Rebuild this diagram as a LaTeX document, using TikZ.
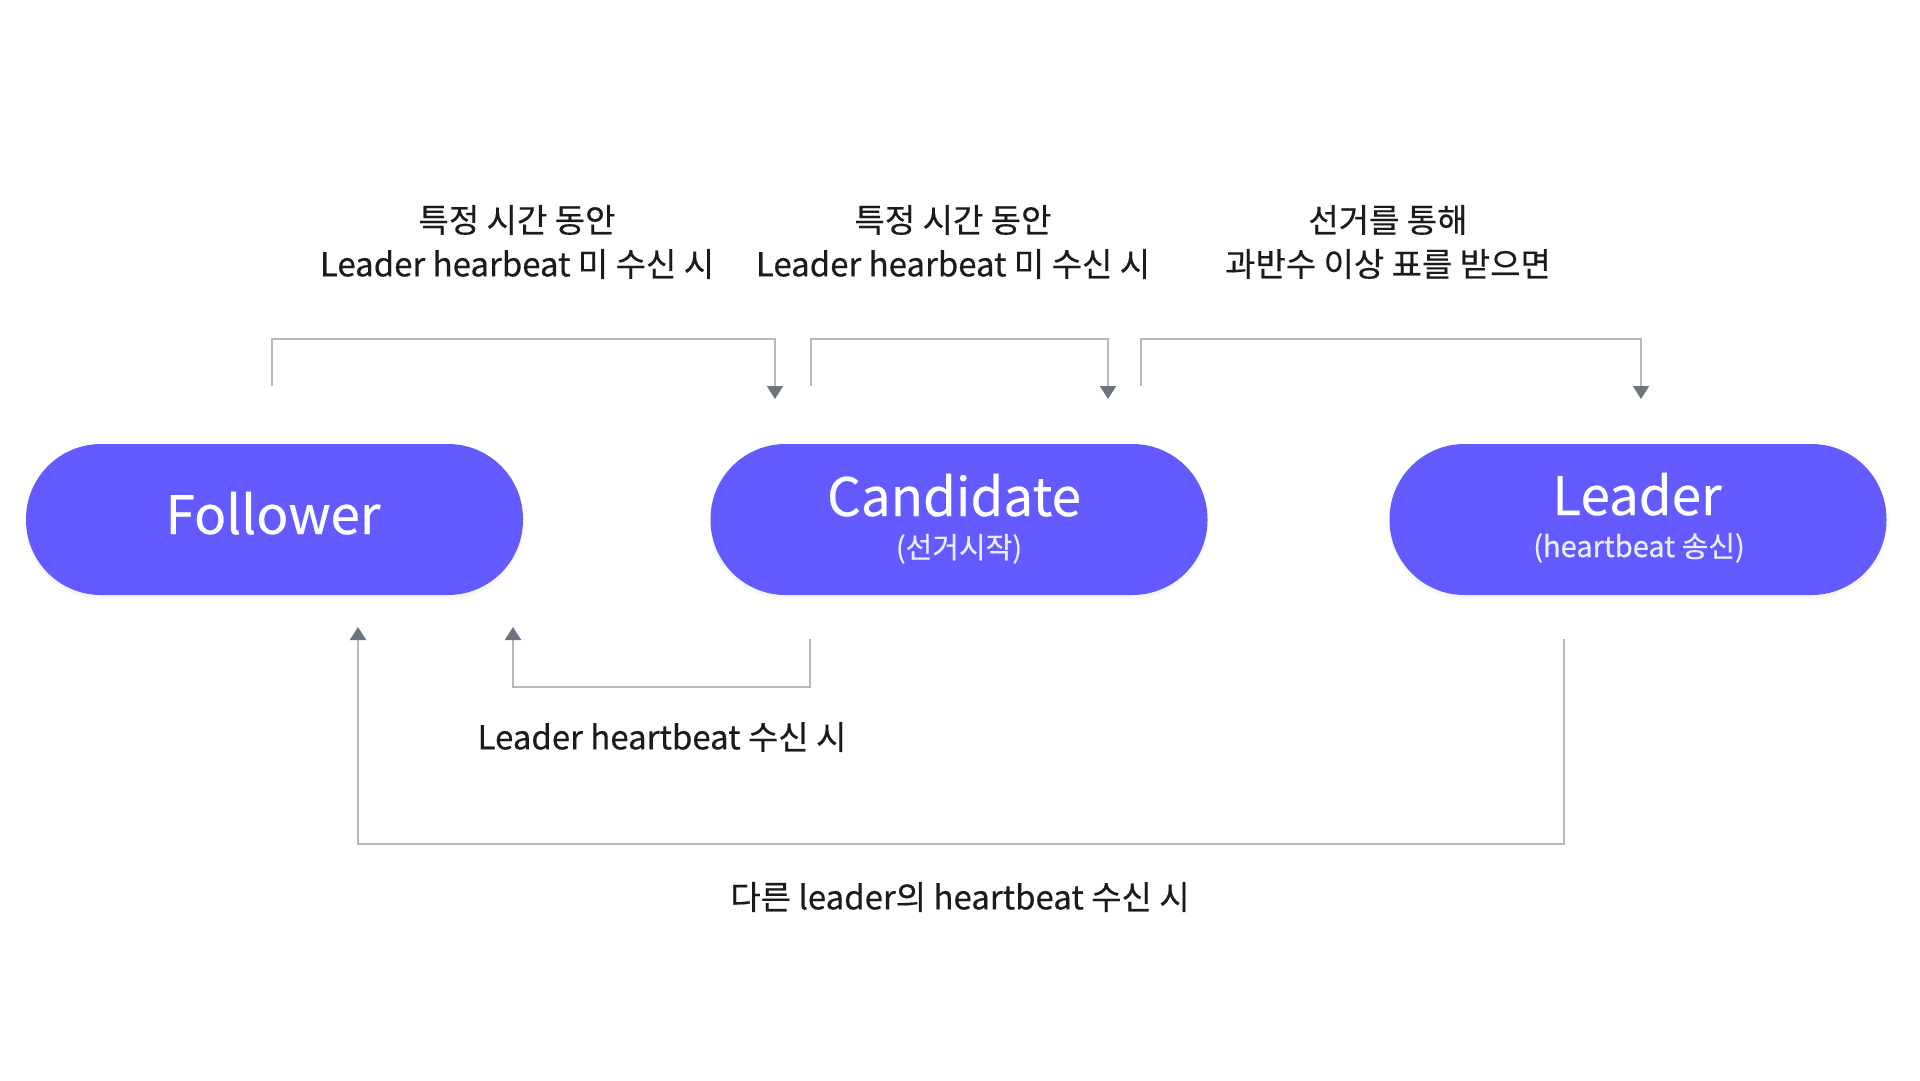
\documentclass[tikz,border=0pt]{standalone}
\usepackage{fontspec}
\setmainfont{Noto Sans CJK KR}
\newfontfamily\medfont{Noto Sans CJK KR}[FakeBold=0.4]
\usetikzlibrary{arrows.meta,shadows}
\definecolor{pill}{HTML}{635BFF}
\definecolor{linegray}{HTML}{B5B8BE}
\definecolor{tipgray}{HTML}{6E7380}
\definecolor{txt}{HTML}{1B1B1F}
\definecolor{subwhite}{HTML}{EEEDFF}
\begin{document}
\begin{tikzpicture}[x=1pt,y=-1pt,
  pillbox/.style={draw=none, fill=pill, minimum width=497pt, minimum height=151pt,
    rounded corners=75pt, inner sep=0pt,
    drop shadow={opacity=0.06, shadow xshift=0pt, shadow yshift=-4pt}},
  pilltitle/.style={text=white, font=\medfont\fontsize{53}{53}\selectfont, anchor=base, inner sep=0pt},
  pillsub/.style={text=subwhite, font=\medfont\fontsize{29}{29}\selectfont, anchor=base, inner sep=0pt},
  conn/.style={draw=linegray, line width=2pt,
    -{Triangle[width=16pt,length=13pt,color=tipgray,fill=tipgray]}},
  lbl/.style={text=txt, font=\medfont\fontsize{33}{44}\selectfont, align=center, inner sep=0pt}]
\useasboundingbox[fill=white] (0,0) rectangle (1920,1080);

% pills
\node[pillbox] (follower) at (274.5,519.5) {};
\node[pillbox] (candidate) at (959,519.5) {};
\node[pillbox] (leader) at (1638,519.5) {};

\node[pilltitle] (followerT) at (273,534) {Follower};
\node[pilltitle] (candidateT) at (954,516) {Candidate};
\node[pillsub] (candidateS) at (959,558) {(선거시작)};
\node[pilltitle] (leaderT) at (1637,515) {Leader};
\node[pillsub] (leaderS) at (1639,557) {(heartbeat 송신)};

% labels
\node[lbl] (l1) at (517,242) {특정 시간 동안\\Leader hearbeat 미 수신 시};
\node[lbl] (l2) at (953,242) {특정 시간 동안\\Leader hearbeat 미 수신 시};
\node[lbl] (l3) at (1388,242) {선거를 통해\\과반수 이상 표를 받으면};
\node[lbl] (l4) at (662,737) {Leader heartbeat 수신 시};
\node[lbl] (l5) at (960,897) {다른 leader의 heartbeat 수신 시};

% connector endpoints
\coordinate (a1s) at (272,386);
\coordinate (a1e) at (775,399);
\coordinate (a2s) at (811,386);
\coordinate (a2e) at (1108,399);
\coordinate (a3s) at (1141,386);
\coordinate (a3e) at (1641,399);
\coordinate (b1s) at (810,639);
\coordinate (b1e) at (513,627);
\coordinate (b2s) at (1564,639);
\coordinate (b2e) at (358,627);

\draw[conn] (a1s) -- ++(0,-47) -| (a1e);
\draw[conn] (a2s) -- ++(0,-47) -| (a2e);
\draw[conn] (a3s) -- ++(0,-47) -| (a3e);
\draw[conn] (b1s) -- ++(0,48) -| (b1e);
\draw[conn] (b2s) -- ++(0,205) -| (b2e);
\end{tikzpicture}
\end{document}
